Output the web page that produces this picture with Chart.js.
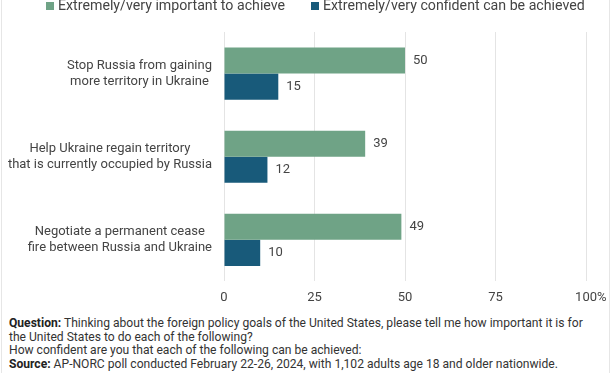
<!DOCTYPE html>
<html>
<head>
<meta charset="utf-8">
<script src="https://cdn.jsdelivr.net/npm/chart.js@4.4.1/dist/chart.umd.min.js"></script>
<style>
  html, body { margin:0; padding:0; background:#fff; }
  body { width:612px; height:374px; position:relative; overflow:hidden; font-family: Roboto, "Noto Sans", sans-serif; }
  .frame { position:absolute; left:1px; top:-1px; width:609px; height:374px; border-left:1px solid #e6e6e6; border-right:1px solid #e6e6e6; box-sizing:border-box; pointer-events:none; }
  #wrap { position:absolute; left:0; top:0; width:612px; height:315px; }
  #note { position:absolute; left:9px; top:317px; font-size:12.1px; line-height:13.7px; color:#333; white-space:nowrap; }
  #note b { font-weight:700; color:#222; }
</style>
</head>
<body>
<div id="wrap"><canvas id="chart"></canvas></div>
<div id="note">
  <div><b>Question:</b> Thinking about the foreign policy goals of the United States, please tell me how important it is for</div>
  <div>the United States to do each of the following?</div>
  <div>How confident are you that each of the following can be achieved:</div>
  <div><b>Source:</b> AP-NORC poll conducted February 22-26, 2024, with 1,102 adults age 18 and older nationwide.</div>
</div>
<div class="frame"></div>
<script>
// ---- datos ----
const goals = [
  ['Stop Russia from gaining', 'more territory in Ukraine'],
  ['Help Ukraine regain territory', 'that is currently occupied by Russia'],
  ['Negotiate a permanent cease', 'fire between Russia and Ukraine']
];
const seriesNames = ['Extremely/very important to achieve', 'Extremely/very confident can be achieved'];
const important = [50, 39, 49];
const confident = [15, 12, 10];
const xTicks = [0, 25, 50, 75, 100];

const GREEN = '#6fa386', BLUE = '#185a7a', TXT = '#444';

// --- leyenda dibujada a mano (arriba, medio cortada como en el original) ---
const topLegend = {
  id: 'topLegend',
  afterDraw(c){
    const ctx = c.ctx;
    const xs = [46, 311];
    ctx.save();
    ctx.font = '14.2px Roboto';
    ctx.textBaseline = 'alphabetic';
    c.data.datasets.forEach((ds, i) => {
      ctx.fillStyle = ds.backgroundColor;
      ctx.fillRect(xs[i], 2, 8, 8);
      ctx.fillStyle = TXT;
      ctx.fillText(ds.label, xs[i] + 12, 10);
    });
    ctx.restore();
  }
};

// --- etiquetas de categoría: bloque alineado a la derecha, líneas centradas ---
const catLabels = {
  id: 'catLabels',
  afterDraw(c){
    const ctx = c.ctx, ys = c.scales.y;
    const right = c.chartArea.left - 12, lh = 15.8;
    ctx.save();
    ctx.font = '13px Roboto';
    ctx.fillStyle = TXT;
    ctx.textAlign = 'center';
    ctx.textBaseline = 'middle';
    c.data.labels.forEach((lines, i) => {
      const cy = ys.getPixelForTick(i);
      const bw = Math.max(...lines.map(l => ctx.measureText(l).width));
      const cx = right - bw / 2;
      lines.forEach((l, k) => ctx.fillText(l, cx, cy + (k - (lines.length - 1) / 2) * lh));
    });
    ctx.restore();
  }
};

// --- etiquetas de valor al final de cada barra ---
const valueLabels = {
  id: 'valueLabels',
  afterDatasetsDraw(c){
    const ctx = c.ctx;
    ctx.save();
    ctx.font = '13px Roboto';
    ctx.fillStyle = TXT;
    ctx.textBaseline = 'middle';
    c.data.datasets.forEach((ds, i) => {
      c.getDatasetMeta(i).data.forEach((bar, j) => {
        ctx.fillText(String(ds.data[j]), bar.x + 8, bar.y);
      });
    });
    ctx.restore();
  }
};

new Chart(document.getElementById('chart'), {
  type: 'bar',
  data: {
    labels: goals,
    datasets: [
      { label: seriesNames[0], data: important, backgroundColor: GREEN },
      { label: seriesNames[1], data: confident, backgroundColor: BLUE }
    ]
  },
  options: {
    indexAxis: 'y',
    responsive: true, maintainAspectRatio: false, animation: false,
    layout: { padding: { top: 32, right: 26, left: 0, bottom: 0 } },
    datasets: { bar: { barPercentage: 1, categoryPercentage: 0.627, borderWidth: 0 } },
    plugins: { legend: { display: false }, tooltip: { enabled: false } },
    scales: {
      x: {
        min: 0, max: 100,
        afterBuildTicks: (s) => { s.ticks = xTicks.map(v => ({ value: v })); },
        afterFit: (s) => { s.paddingRight = 0; s.paddingLeft = 0; },
        // el "%" cuelga a la derecha del 100 (como en el original)
        ticks: { color: TXT, padding: 9, font: { family: 'Roboto', size: 13 },
                 callback: (v) => v === 100 ? '\u00a0\u00a0\u00a0100%' : String(v), maxRotation: 0 },
        grid: { color: '#e4e4e4', drawTicks: false },
        border: { display: false }
      },
      y: {
        afterFit: (s) => { s.width = 224; },
        ticks: { display: false },
        grid: { display: false, drawTicks: false },
        border: { display: false }
      }
    }
  },
  plugins: [topLegend, catLabels, valueLabels]
});
</script>
</body>
</html>
